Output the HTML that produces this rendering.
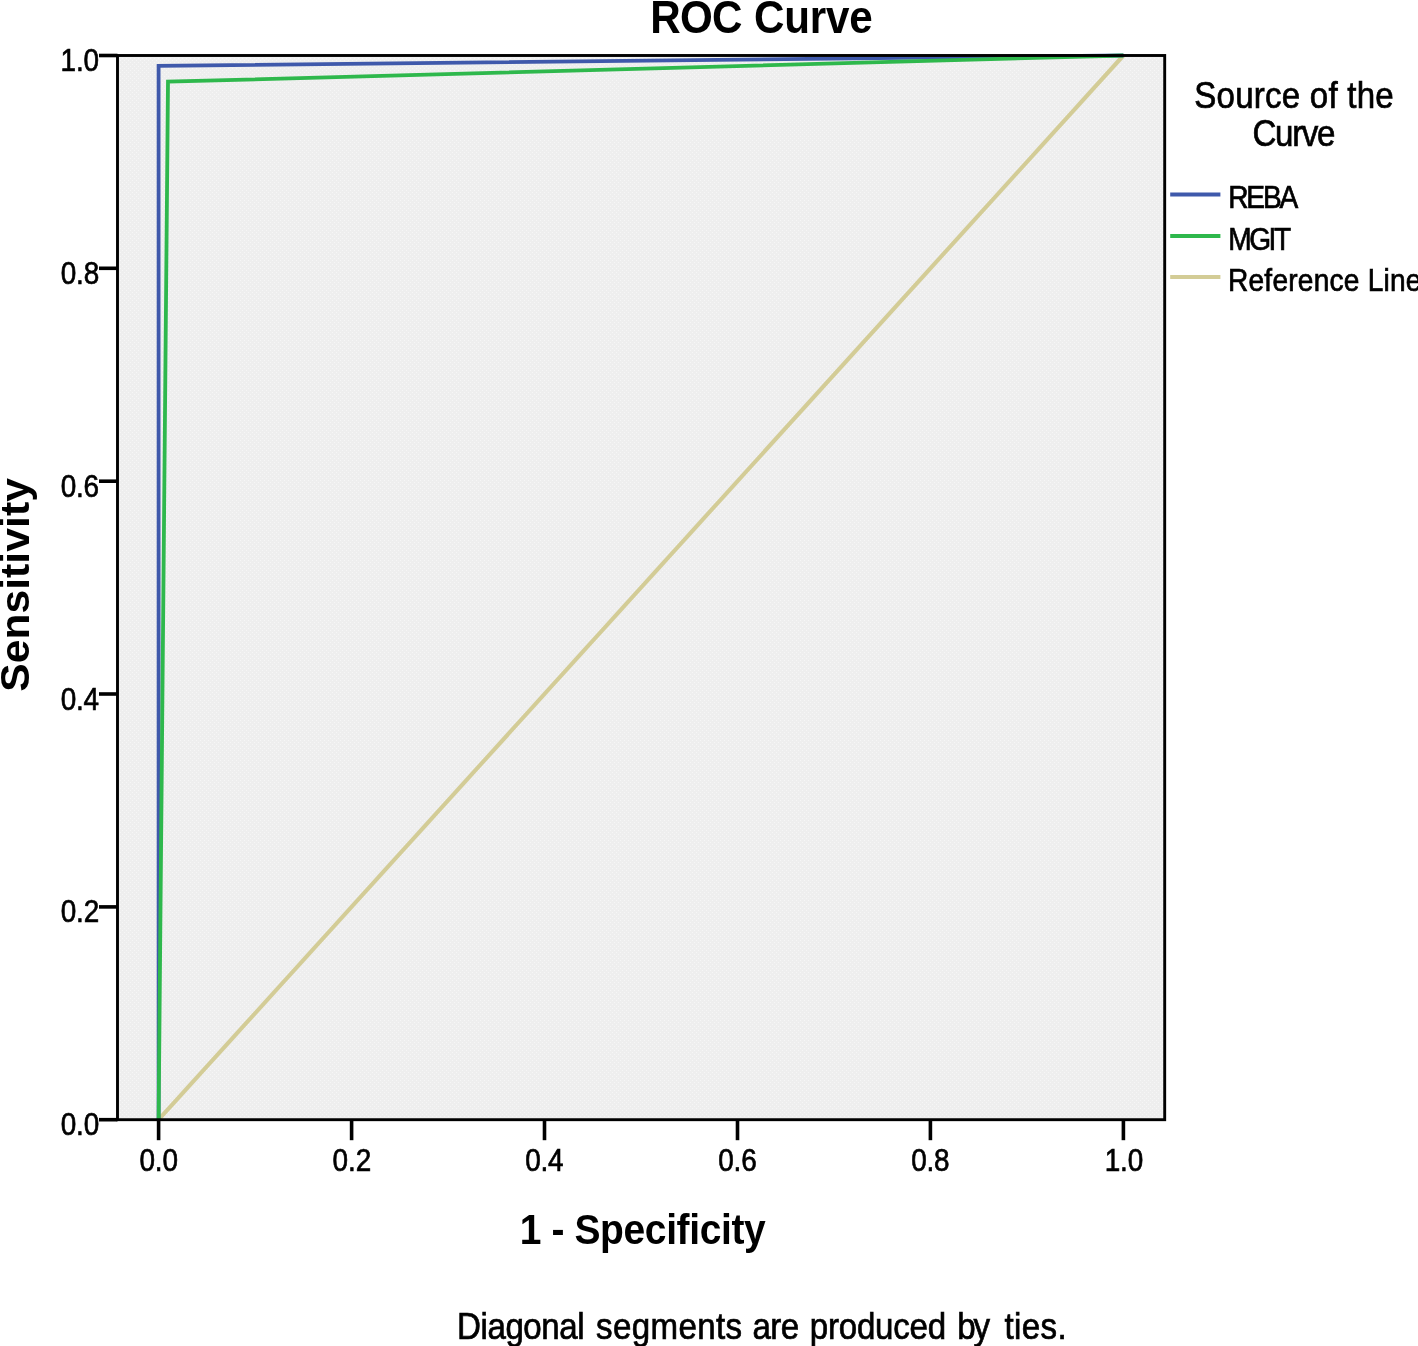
<!DOCTYPE html>
<html lang="en"><head><meta charset="utf-8"><title>ROC Curve</title>
<style>html,body{margin:0;padding:0;background:#fff;}body{width:1418px;height:1346px;overflow:hidden;}svg{display:block;}text{font-family:'Liberation Sans', sans-serif;fill:#000;white-space:pre;}.r{stroke:#000;stroke-width:0.7px;}.b{font-weight:bold;}</style></head><body>
<svg width="1418" height="1346" viewBox="0 0 1418 1346">
<defs><pattern id="dots" width="4" height="4" patternUnits="userSpaceOnUse"><rect width="4" height="4" fill="#eeeeee"/><rect x="0" y="0" width="1" height="1" fill="#f6f6f6"/><rect x="2" y="2" width="1" height="1" fill="#f6f6f6"/></pattern></defs>
<rect x="0" y="0" width="1418" height="1346" fill="#ffffff"/>
<rect x="117.5" y="55.5" width="1047.2" height="1064.2" fill="url(#dots)"/>
<line x1="158.6" y1="1119.7" x2="1123.4" y2="55.5" stroke="#d3cc96" stroke-width="4.1"/>
<polyline points="158.6,1119.7 158.6,65.9 1123.4,55.5" fill="none" stroke="#3f59ab" stroke-width="3.8" stroke-linejoin="miter"/>
<polyline points="158.6,1119.7 168,81.7 1123.4,55.5" fill="none" stroke="#2eb84c" stroke-width="3.8" stroke-linejoin="miter"/>
<rect x="117.5" y="55.5" width="1047.2" height="1064.2" fill="none" stroke="#000" stroke-width="2.9"/>
<line x1="99" y1="1119.7" x2="117.5" y2="1119.7" stroke="#000" stroke-width="3.6"/>
<line x1="158.6" y1="1119.7" x2="158.6" y2="1140.2" stroke="#000" stroke-width="3.6"/>
<line x1="99" y1="906.9" x2="117.5" y2="906.9" stroke="#000" stroke-width="3.6"/>
<line x1="351.6" y1="1119.7" x2="351.6" y2="1140.2" stroke="#000" stroke-width="3.6"/>
<line x1="99" y1="694.0" x2="117.5" y2="694.0" stroke="#000" stroke-width="3.6"/>
<line x1="544.5" y1="1119.7" x2="544.5" y2="1140.2" stroke="#000" stroke-width="3.6"/>
<line x1="99" y1="481.2" x2="117.5" y2="481.2" stroke="#000" stroke-width="3.6"/>
<line x1="737.5" y1="1119.7" x2="737.5" y2="1140.2" stroke="#000" stroke-width="3.6"/>
<line x1="99" y1="268.3" x2="117.5" y2="268.3" stroke="#000" stroke-width="3.6"/>
<line x1="930.4" y1="1119.7" x2="930.4" y2="1140.2" stroke="#000" stroke-width="3.6"/>
<line x1="99" y1="55.5" x2="117.5" y2="55.5" stroke="#000" stroke-width="3.6"/>
<line x1="1123.4" y1="1119.7" x2="1123.4" y2="1140.2" stroke="#000" stroke-width="3.6"/>
<line x1="1170.2" y1="194.5" x2="1220.4" y2="194.5" stroke="#3f59ab" stroke-width="4"/>
<line x1="1170.2" y1="235.9" x2="1220.4" y2="235.9" stroke="#2eb84c" stroke-width="4"/>
<line x1="1170.2" y1="277.1" x2="1220.4" y2="277.1" stroke="#d3cc96" stroke-width="4"/>
<text class="b" transform="translate(0,33.4) scale(0.9066,1)" font-size="46.5"><tspan x="717.17" letter-spacing="-0.785">ROC</tspan> <tspan x="831.79" letter-spacing="-0.242">Curve</tspan></text>
<text class="b" transform="translate(0,1244.0) scale(0.9066,1)" x="573.24" font-size="43" letter-spacing="-0.417">1 - Specificity</text>
<text class="r" transform="translate(0,1338.5) scale(0.9066,1)" font-size="36.5"><tspan x="504.08" letter-spacing="-0.459">Diagonal</tspan> <tspan x="657.44" letter-spacing="0.420">segments</tspan> <tspan x="830.07" letter-spacing="-0.725">are</tspan> <tspan x="893.21" letter-spacing="-0.262">produced</tspan> <tspan x="1055.86" letter-spacing="-2.301">by</tspan> <tspan x="1108.08" letter-spacing="0.386">ties.</tspan></text>
<text class="r" transform="translate(0,107.9) scale(0.9066,1)" x="1317.38" font-size="36.5" letter-spacing="0.236">Source of the</text>
<text class="r" transform="translate(0,146.2) scale(0.9066,1)" x="1381.59" font-size="36.5" letter-spacing="-1.474">Curve</text>
<text class="r" transform="translate(0,208.3) scale(0.9066,1)" x="1354.68" font-size="31" letter-spacing="-2.336">REBA</text>
<text class="r" transform="translate(0,249.8) scale(0.9066,1)" x="1354.68" font-size="31" letter-spacing="-2.660">MGIT</text>
<text class="r" transform="translate(0,1135.2) scale(0.872,1)" x="69.57" font-size="32" letter-spacing="-0.108">0.0</text>
<text class="r" transform="translate(0,1171.2) scale(0.872,1)" x="159.91" font-size="32" letter-spacing="-0.146">0.0</text>
<text class="r" transform="translate(0,922.4) scale(0.872,1)" x="69.57" font-size="32" letter-spacing="-0.099">0.2</text>
<text class="r" transform="translate(0,1171.2) scale(0.872,1)" x="381.24" font-size="32" letter-spacing="-0.038">0.2</text>
<text class="r" transform="translate(0,709.5) scale(0.872,1)" x="69.57" font-size="32" letter-spacing="-0.243">0.4</text>
<text class="r" transform="translate(0,1171.2) scale(0.872,1)" x="602.27" font-size="32" letter-spacing="-0.245">0.4</text>
<text class="r" transform="translate(0,496.7) scale(0.872,1)" x="69.57" font-size="32" letter-spacing="-0.225">0.6</text>
<text class="r" transform="translate(0,1171.2) scale(0.872,1)" x="823.60" font-size="32" letter-spacing="-0.101">0.6</text>
<text class="r" transform="translate(0,283.8) scale(0.872,1)" x="69.57" font-size="32" letter-spacing="-0.117">0.8</text>
<text class="r" transform="translate(0,1171.2) scale(0.872,1)" x="1044.92" font-size="32" letter-spacing="-0.310">0.8</text>
<text class="r" transform="translate(0,71.0) scale(0.872,1)" x="69.49" font-size="32" letter-spacing="-0.150">1.0</text>
<text class="r" transform="translate(0,1171.2) scale(0.872,1)" x="1266.87" font-size="32" letter-spacing="-0.150">1.0</text>
<text class="b" transform="translate(28.8,585) scale(0.94,1) rotate(-90)" font-size="42.5" text-anchor="middle" textLength="213.6" lengthAdjust="spacing">Sensitivity</text>
<text class="r" transform="translate(1228,291) scale(0.9066,1)" font-size="31" textLength="213.43" lengthAdjust="spacing">Reference Line</text>
</svg></body></html>
